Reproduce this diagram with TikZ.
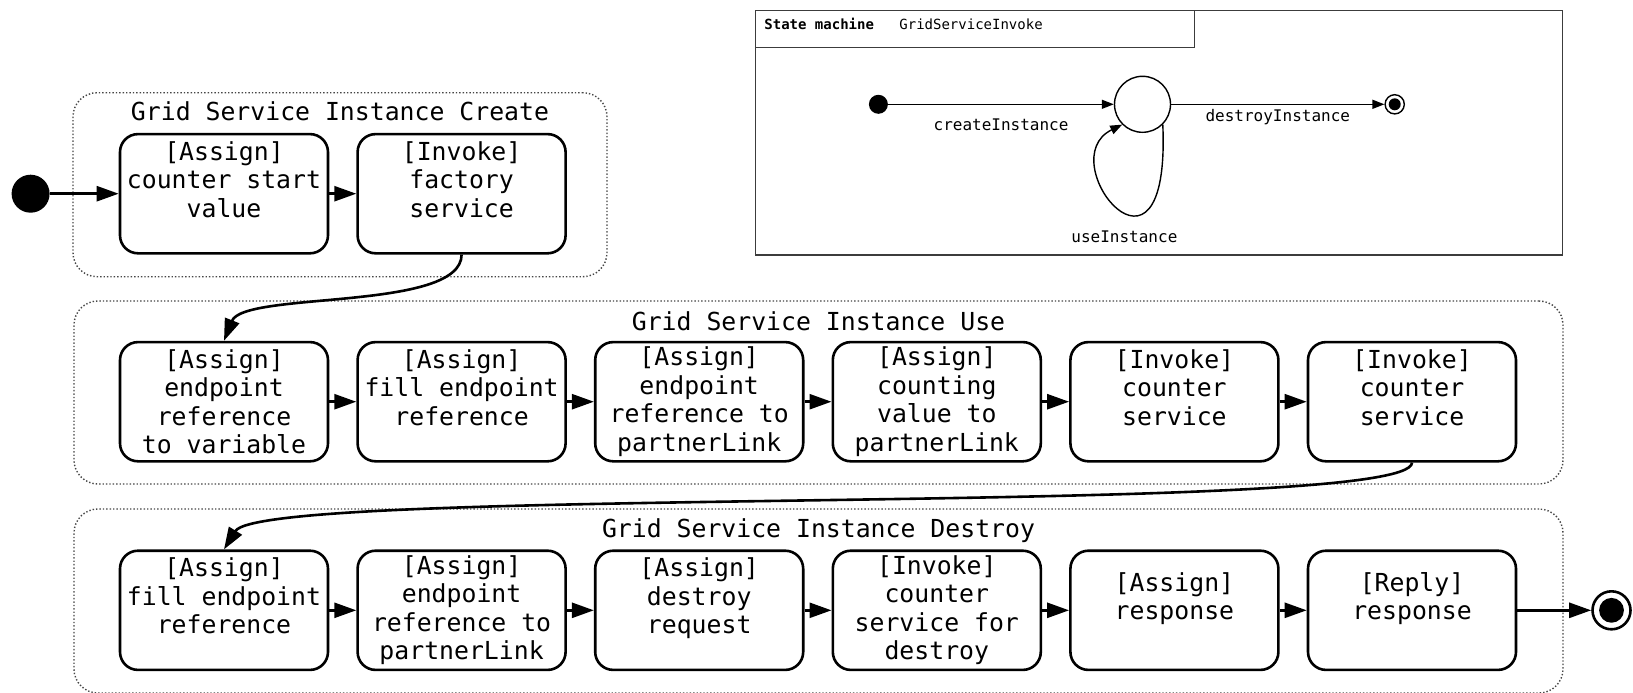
\documentclass[tikz,border=0pt]{standalone}
\usepackage{fontspec}
\setmonofont{DejaVu Sans Mono}
\usepackage{tikz}
\usetikzlibrary{arrows.meta, positioning}
\definecolor{groupgray}{RGB}{70, 70, 70}
\definecolor{framegray}{RGB}{60, 60, 60}

\begin{document}
\begin{tikzpicture}[
    x=0.5pt, y=-0.5pt,
    font=\ttfamily\fontsize{12.4}{14.25}\selectfont,
    node distance=13.5pt,
    activity/.style={rectangle, rounded corners=9pt, draw, line width=1.3pt, minimum width=104pt, minimum height=59.6pt, inner sep=1pt, align=center},
    groupbox/.style={rectangle, rounded corners=12pt, draw=groupgray, densely dotted, line width=0.7pt, inner sep=0pt},
    grouptitle/.style={anchor=base, inner sep=0pt},
    startdot/.style={circle, fill, minimum size=19pt, inner sep=0pt},
    stopdot/.style={circle, draw, line width=1.3pt, minimum size=19pt, inner sep=0pt, path picture={\fill (path picture bounding box.center) circle (6.2pt);}},
    flow/.style={line width=1.3pt, -{Triangle[length=11pt, width=7.5pt]}},
    smstate/.style={circle, draw, line width=0.7pt, minimum size=28pt, inner sep=0pt},
    sminit/.style={circle, fill, minimum size=9.5pt, inner sep=0pt},
    smstop/.style={circle, draw, line width=0.7pt, minimum size=9.6pt, inner sep=0pt, path picture={\fill (path picture bounding box.center) circle (3pt);}},
    smhead/.style={anchor=base west, inner sep=0pt, font=\ttfamily\fontsize{7}{8}\selectfont},
    smlabel/.style={font=\ttfamily\fontsize{8}{9.6}\selectfont, inner sep=1pt},
    smarrow/.style={line width=0.7pt, -{Triangle[length=6pt, width=4.5pt]}}
]
\useasboundingbox (0,0) rectangle (1633,692);

% Grid Service Instance Create
\node (createGrp) [groupbox, minimum width=267pt, minimum height=92pt] at (340,184.7) {};
\node (createTitle) [grouptitle] at (340,120.7) {Grid Service Instance Create};
\node (start) [startdot] at (30.6,193.7) {};
\node (counterStart) [activity] at (224,193.7) {[Assign]\\counter start\\value\\~};
\node (factory) [activity, right=of counterStart] {[Invoke]\\factory\\service\\~};

% Grid Service Instance Use
\node (useGrp) [groupbox, minimum width=744.5pt, minimum height=91.5pt] at (818.5,392.5) {};
\node (useTitle) [grouptitle] at (818.5,330.7) {Grid Service Instance Use};
\node (endpointVar) [activity] at (224,401.7) {[Assign]\\endpoint\\reference\\to variable};
\node (fillRef) [activity, right=of endpointVar] {[Assign]\\fill endpoint\\reference\\~};
\node (refToLink) [activity, right=of fillRef] {[Assign]\\endpoint\\reference to\\partnerLink};
\node (countToLink) [activity, right=of refToLink] {[Assign]\\counting\\value to\\partnerLink};
\node (counterOne) [activity, right=of countToLink] {[Invoke]\\counter\\service\\~};
\node (counterTwo) [activity, right=of counterOne] {[Invoke]\\counter\\service\\~};

% Grid Service Instance Destroy
\node (destroyGrp) [groupbox, minimum width=744.5pt, minimum height=92pt] at (818.5,601) {};
\node (destroyTitle) [grouptitle] at (818.5,537.3) {Grid Service Instance Destroy};
\node (fillRefD) [activity] at (224,610.3) {[Assign]\\fill endpoint\\reference\\~};
\node (refToLinkD) [activity, right=of fillRefD] {[Assign]\\endpoint\\reference to\\partnerLink};
\node (destroyReq) [activity, right=of refToLinkD] {[Assign]\\destroy\\request\\~};
\node (counterDestroy) [activity, right=of destroyReq] {[Invoke]\\counter\\service for\\destroy};
\node (response) [activity, right=of counterDestroy] {[Assign]\\response\\~};
\node (reply) [activity, right=of response] {[Reply]\\response\\~};
\node (stop) [stopdot] at (1611.5,610.3) {};

% Arrows
\draw [flow] (start) -- (counterStart);
\draw [flow] (counterStart) -- (factory);
\draw [flow] (factory.south) .. controls +(0,57) and +(20,-50) .. (endpointVar.north);
\draw [flow] (endpointVar) -- (fillRef);
\draw [flow] (fillRef) -- (refToLink);
\draw [flow] (refToLink) -- (countToLink);
\draw [flow] (countToLink) -- (counterOne);
\draw [flow] (counterOne) -- (counterTwo);
\draw [flow] (counterTwo.south) .. controls +(0,55) and +(40,-65) .. (fillRefD.north);
\draw [flow] (fillRefD) -- (refToLinkD);
\draw [flow] (refToLinkD) -- (destroyReq);
\draw [flow] (destroyReq) -- (counterDestroy);
\draw [flow] (counterDestroy) -- (response);
\draw [flow] (response) -- (reply);
\draw [flow] (reply) -- (stop);

% State machine GridServiceInvoke
\node (smFrame) [draw=framegray, line width=0.6pt, minimum width=403.5pt, minimum height=122.2pt, inner sep=0pt] at (1159,132.8) {};
\node (smHead) [draw=framegray, line width=0.6pt, anchor=north west, minimum width=219.6pt, minimum height=18.3pt, inner sep=0pt] at (smFrame.north west) {};
\node (smKind) [smhead, font=\ttfamily\bfseries\fontsize{7}{8}\selectfont] at (764,29) {State machine};
\node (smName) [smhead] at (899,29) {GridServiceInvoke};
\node (smInit) [sminit] at (878.4,104.3) {};
\node (smState) [smstate] at (1142.5,104.3) {};
\node (smStop) [smstop] at (1394.7,104.3) {};
\draw [smarrow] (smInit) -- node [smlabel, below=6pt] {createInstance} (smState);
\draw [smarrow] (smState) -- node [smlabel, below=1pt] {destroyInstance} (smStop);
\draw [smarrow] (smState.-45) .. controls +(8,186) and +(-73,36) .. node [smlabel, pos=0.45, below=8pt] {useInstance} (smState.-135);

\end{tikzpicture}
\end{document}
